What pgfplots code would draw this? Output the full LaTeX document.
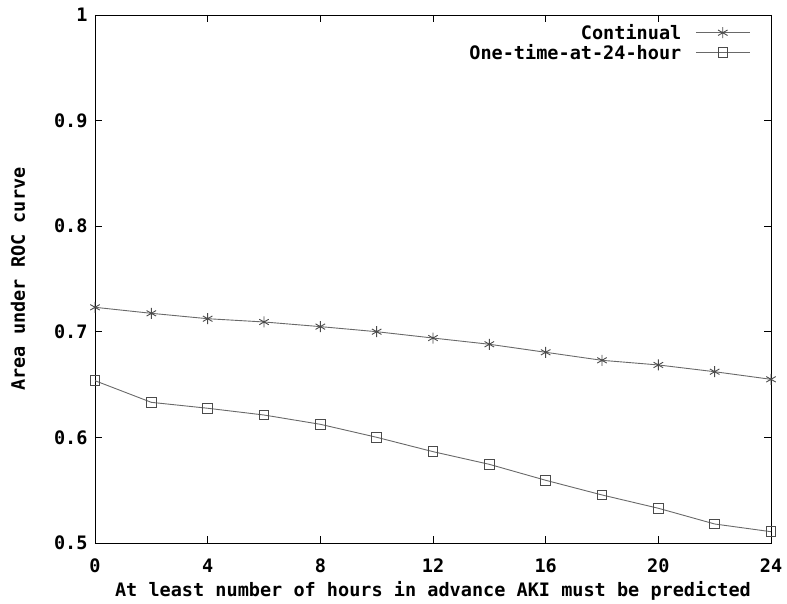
\documentclass[border=0pt]{standalone}
\usepackage{fontspec}
\setmainfont{DejaVu Sans Mono}
\usepackage{pgfplots}
\pgfplotsset{compat=1.18}
\definecolor{lngray}{RGB}{105,105,105}
\definecolor{mkgray}{RGB}{75,75,75}
\newcommand{\gfont}{\fontsize{18.6}{20}\selectfont\bfseries}

\pgfplotstableread{
x   cont    once
0   0.7232  0.6537
2   0.7175  0.6332
4   0.7124  0.6276
6   0.7093  0.6212
8   0.7049  0.6124
10  0.7001  0.6001
12  0.6941  0.5865
14  0.6882  0.5745
16  0.6806  0.5594
18  0.6730  0.5455
20  0.6686  0.5329
22  0.6622  0.5180
24  0.6550  0.5107
}\aucdata

\begin{document}
\begin{tikzpicture}
\begin{axis}[name=ax,
    scale only axis, width=676bp, height=528bp,
    xmin=0, xmax=24, ymin=0.5, ymax=1,
    xtick={0,4,...,24}, ytick={0.5,0.6,...,1.0},
    tick align=inside, major tick length=7bp,
    tick style={black, line width=0.8bp},
    axis line style={black, line width=0.9bp},
    /pgf/number format/assume math mode=true,
    tick label style={font=\gfont},
    yticklabel style={/pgf/number format/fixed, /pgf/number format/precision=1, xshift=-4bp},
    xticklabel style={yshift=-12bp},
    xlabel={At least number of hours in advance AKI must be predicted},
    ylabel={Area under ROC curve},
    label style={font=\gfont},
    xlabel style={yshift=-2bp},
    ylabel style={yshift=22bp},
    legend plot pos=right,
    legend cell align=right,
    legend style={at={(0.974,0.99)}, anchor=north east, draw=none, fill=none,
        font=\gfont, row sep=-1bp, /tikz/column 1/.style={column sep=12bp}},
    legend image code/.code={\draw[mark repeat=2,mark phase=2,#1]
        plot coordinates {(0bp,0bp)(27bp,0bp)(54bp,0bp)};},
]
\addplot[lngray, line width=0.9bp, mark=asterisk, mark size=5.5bp,
    mark options={mkgray, line width=0.9bp}] table[x=x, y=cont] {\aucdata};
\addlegendentry{Continual}
\addplot[lngray, line width=0.9bp, mark=square, mark size=4.8bp,
    mark options={mkgray, line width=0.9bp}] table[x=x, y=once] {\aucdata};
\addlegendentry{One-time-at-24-hour}
\end{axis}
\pgfresetboundingbox
\path[use as bounding box] ([shift={(-95bp,-61bp)}]ax.south west) rectangle ([shift={(16bp,15bp)}]ax.north east);
\end{tikzpicture}
\end{document}
